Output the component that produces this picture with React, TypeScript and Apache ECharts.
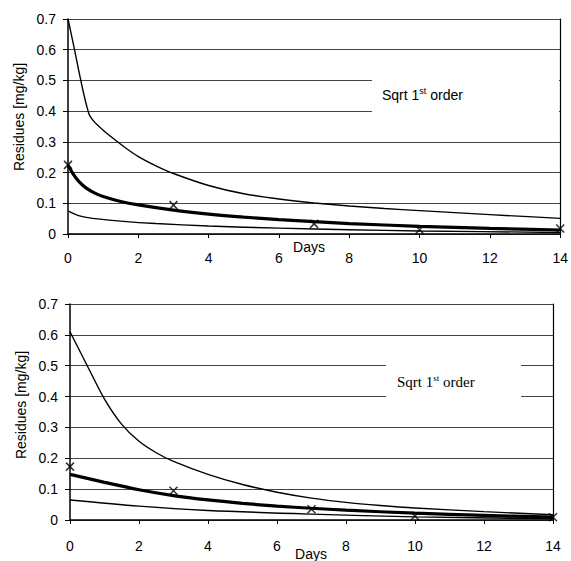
import React, { useEffect, useRef } from "react";
import * as echarts from "echarts";

// Observed residues (x markers)
const sampleDays = [0, 3, 7, 10, 14];
const topObserved = [0.225, 0.094, 0.033, 0.014, 0.018];
const bottomObserved = [0.173, 0.095, 0.035, 0.013, 0.009];

// Top panel curves
const topUpperDays = [0, 0.15, 0.3, 0.45, 0.6, 0.75, 1, 1.3, 1.65, 2, 2.5, 3, 4, 5, 6, 7, 8, 9, 10, 12, 14];
const topUpperVals = [0.7, 0.62, 0.535, 0.455, 0.39, 0.365, 0.338, 0.31, 0.279, 0.252, 0.222, 0.197, 0.158, 0.131, 0.114, 0.101, 0.091, 0.083, 0.076, 0.063, 0.051];
const topMidDays = [0, 0.15, 0.3, 0.5, 0.75, 1, 1.5, 2, 3, 4, 5, 6, 7, 8, 10, 12, 14];
const topMidVals = [0.225, 0.195, 0.172, 0.151, 0.134, 0.122, 0.106, 0.095, 0.078, 0.065, 0.055, 0.047, 0.04, 0.034, 0.025, 0.018, 0.013];
const topLowDays = [0, 0.3, 0.7, 1.5, 2.5, 4, 6, 8, 10, 14];
const topLowVals = [0.075, 0.06, 0.051, 0.042, 0.034, 0.026, 0.019, 0.014, 0.01, 0.005];

// Bottom panel curves
const botUpperDays = [0, 0.5, 1, 1.5, 2, 2.5, 3, 4, 5, 6, 7, 8, 9, 10, 12, 14];
const botUpperVals = [0.61, 0.5, 0.392, 0.31, 0.255, 0.218, 0.19, 0.148, 0.115, 0.09, 0.071, 0.057, 0.047, 0.039, 0.027, 0.017];
const botMidDays = [0, 1, 2, 3, 4, 5, 6, 7, 8, 10, 12, 14];
const botMidVals = [0.148, 0.122, 0.098, 0.079, 0.065, 0.054, 0.045, 0.038, 0.032, 0.022, 0.015, 0.009];
const botLowDays = [0, 2, 4, 7, 10, 14];
const botLowVals = [0.065, 0.045, 0.031, 0.019, 0.01, 0.004];

const yTickLabels = ["0", "0.1", "0.2", "0.3", "0.4", "0.5", "0.6", "0.7"];
const xTickLabels = ["0", "2", "4", "6", "8", "10", "12", "14"];

const SANS = "'Liberation Sans', Arial, sans-serif";
const SERIF = "'Liberation Serif', 'Times New Roman', serif";

const pairs = (xs: number[], ys: number[]) => xs.map((x, i) => [x, ys[i]]);

function lineSeries(idx: number, xs: number[], ys: number[], width: number, smooth: number) {
  return {
    type: "line",
    xAxisIndex: idx,
    yAxisIndex: idx * 2,
    data: pairs(xs, ys),
    showSymbol: false,
    symbol: "none",
    smooth,
    lineStyle: { color: "#000", width },
    z: 3,
  };
}

function markerSeries(idx: number, ys: number[]) {
  return {
    type: "scatter",
    xAxisIndex: idx,
    yAxisIndex: idx * 2,
    data: pairs(sampleDays, ys),
    symbol: "path://M0,0L10,10M0,10L10,0",
    symbolSize: 8,
    itemStyle: { color: "none", borderColor: "#000", borderWidth: 1.5 },
    z: 5,
  };
}

function xAxis(idx: number, margin: number) {
  return {
    type: "value",
    gridIndex: idx,
    min: 0,
    max: 14,
    interval: 2,
    axisLine: { show: true, onZero: false, lineStyle: { color: "#000", width: 1.5 } },
    axisTick: { show: true, length: 4, lineStyle: { color: "#000" } },
    splitLine: { show: false },
    axisLabel: {
      color: "#000",
      fontFamily: SANS,
      fontSize: 14,
      margin,
      formatter: (v: number) => xTickLabels[Math.round(v / 2)] ?? String(v),
    },
  };
}

function yAxis(idx: number) {
  return {
    type: "value",
    gridIndex: idx,
    min: 0,
    max: 0.7,
    interval: 0.1,
    axisLine: { show: true, onZero: false, lineStyle: { color: "#000", width: 1.5 } },
    axisTick: { show: true, length: 5, lineStyle: { color: "#000" } },
    splitLine: { show: true, lineStyle: { color: "#444", width: 1 } },
    axisLabel: {
      color: "#000",
      fontFamily: SANS,
      fontSize: 14,
      margin: 12,
      formatter: (v: number) => yTickLabels[Math.round(v * 10)] ?? String(v),
    },
  };
}

function rightBorder(idx: number) {
  return {
    type: "value",
    gridIndex: idx,
    position: "right",
    min: 0,
    max: 0.7,
    interval: 0.1,
    axisLine: { show: true, onZero: false, lineStyle: { color: "#000", width: 1.2 } },
    axisTick: { show: false },
    axisLabel: { show: false },
    splitLine: { show: false },
    z: 20,
  };
}

export default function App() {
  const ref = useRef<HTMLDivElement>(null);
  useEffect(() => {
    if (!ref.current) return;
    const chart = echarts.init(ref.current, undefined, { renderer: "svg" });
    chart.setOption({
      animation: false,
      backgroundColor: "#fff",
      grid: [
        { left: 68, top: 19, width: 493.5, height: 215 },
        { left: 70, top: 304, width: 483, height: 216 },
      ],
      xAxis: [xAxis(0, 17), xAxis(1, 19)],
      yAxis: [yAxis(0), rightBorder(0), yAxis(1), rightBorder(1)],
      series: [
        lineSeries(0, topUpperDays, topUpperVals, 1.4, 0.2),
        lineSeries(0, topMidDays, topMidVals, 3.2, 0.3),
        lineSeries(0, topLowDays, topLowVals, 1.4, 0.3),
        markerSeries(0, topObserved),
        lineSeries(1, botUpperDays, botUpperVals, 1.4, 0.3),
        lineSeries(1, botMidDays, botMidVals, 3.2, 0.3),
        lineSeries(1, botLowDays, botLowVals, 1.4, 0.3),
        markerSeries(1, bottomObserved),
      ],
      graphic: [
        { type: "rect", shape: { x: 372, y: 62, width: 187, height: 66 }, style: { fill: "#fff" }, z: 10 },
        { type: "rect", shape: { x: 386, y: 350, width: 135, height: 62 }, style: { fill: "#fff" }, z: 10 },
        {
          type: "text", x: 382, y: 95, z: 11,
          style: {
            text: "{a|Sqrt 1}{b|st}{a| order}",
            verticalAlign: "middle",
            rich: {
              a: { fontFamily: SANS, fontSize: 14, fill: "#000", lineHeight: 16 },
              b: { fontFamily: SANS, fontSize: 9, fill: "#000", lineHeight: 16, padding: [0, 0, 8, 0] },
            },
          },
        },
        {
          type: "text", x: 397, y: 382, z: 11,
          style: {
            text: "{a|Sqrt 1}{b|st}{a| order}",
            verticalAlign: "middle",
            rich: {
              a: { fontFamily: SERIF, fontSize: 15, fill: "#000", lineHeight: 17 },
              b: { fontFamily: SERIF, fontSize: 9, fill: "#000", lineHeight: 17, padding: [0, 0, 8, 0] },
            },
          },
        },
        { type: "text", x: 19, y: 117, rotation: Math.PI / 2, z: 11, style: { text: "Residues [mg/kg]", fontFamily: SANS, fontSize: 14, fill: "#000", align: "center", verticalAlign: "middle" } },
        { type: "text", x: 21, y: 405, rotation: Math.PI / 2, z: 11, style: { text: "Residues [mg/kg]", fontFamily: SANS, fontSize: 14, fill: "#000", align: "center", verticalAlign: "middle" } },
        { type: "text", x: 309, y: 247, z: 11, style: { text: "Days", fontFamily: SANS, fontSize: 14, fill: "#000", align: "center", verticalAlign: "middle" } },
        { type: "text", x: 311, y: 554, z: 11, style: { text: "Days", fontFamily: SANS, fontSize: 14, fill: "#000", align: "center", verticalAlign: "middle" } },
      ],
    });
    return () => chart.dispose();
  }, []);
  return (
    <div
      ref={ref}
      style={{ position: "fixed", left: 0, top: 0, width: 571, height: 561, background: "#fff" }}
    />
  );
}
